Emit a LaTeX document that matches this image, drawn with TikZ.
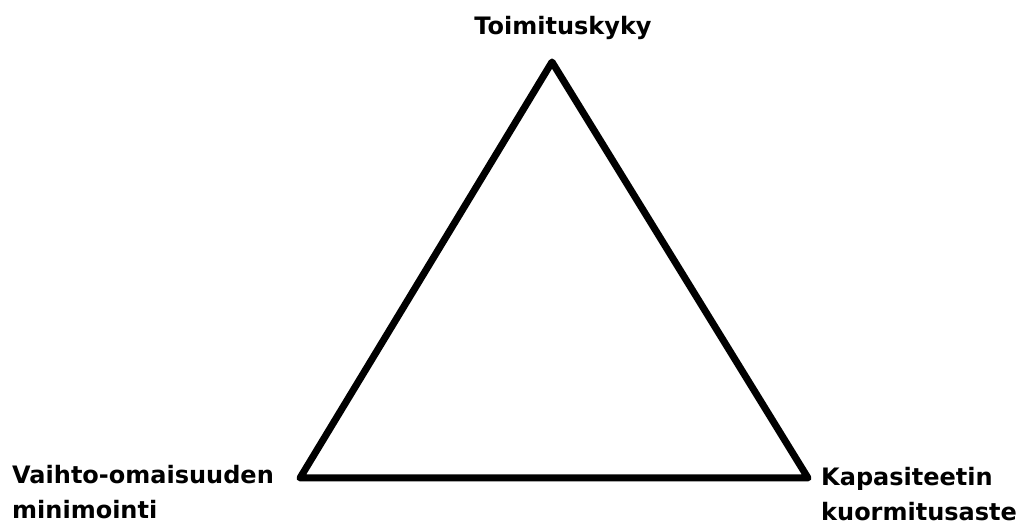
\documentclass[tikz,border=0pt]{standalone}
\usepackage{fontspec}
\setmainfont{DejaVu Sans}
\tikzset{
  corner label/.style={font=\bfseries\fontsize{24}{35}\selectfont, inner sep=0pt, align=left},
  side/.style={line width=7pt, line join=round}
}
\begin{document}
\begin{tikzpicture}[x=1pt,y=1pt]
	\useasboundingbox (0,0) rectangle (1023,527);
	
	% corners of the triangle
	\coordinate (top) at (552,465);
	\coordinate (left) at (300,49);
	\coordinate (right) at (808,49);
	
	% triangle
	\draw[side] (top) -- (left) -- (right) -- cycle;
	
	% labels
	\node[corner label, anchor=base] (toimitus) at (563,492) {Toimituskyky};
	\node[corner label, anchor=north west] (vaihto) at (12,62) {Vaihto-omaisuuden\\minimointi};
	\node[corner label, anchor=north west] (kapasiteetti) at (821,60) {Kapasiteetin\\kuormitusaste};
	
\end{tikzpicture}
\end{document}
